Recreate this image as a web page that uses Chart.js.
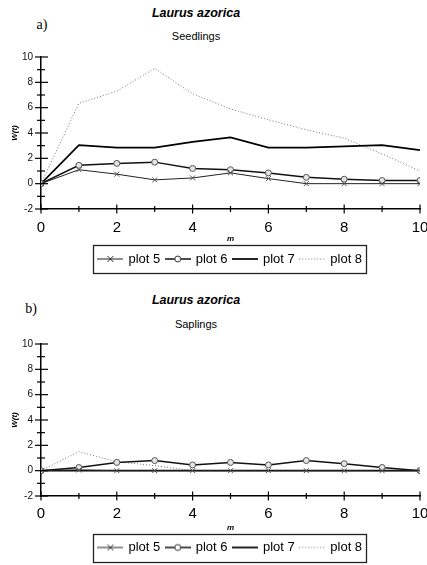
<!DOCTYPE html>
<html><head><meta charset="utf-8">
<script src="https://cdn.jsdelivr.net/npm/chart.js@4/dist/chart.umd.min.js"></script>
<style>
html,body{margin:0;padding:0;background:#fff;width:427px;height:565px;overflow:hidden;position:relative;font-family:"Liberation Sans",Arial,sans-serif;}
.t{position:absolute;transform:translate(-50%,-50%);white-space:nowrap;line-height:1;color:#000;}
.sp{font-weight:bold;font-style:italic;font-size:12.5px;}
.sub{font-size:11px;}
.lab{font-family:"Liberation Serif","Times New Roman",serif;font-size:14px;}
canvas{position:absolute;left:0;}
</style></head>
<body>
<div class="t lab" style="left:42px;top:25px">a)</div>
<div class="t sp" style="left:196px;top:13px">Laurus azorica</div>
<div class="t sub" style="left:196px;top:36px">Seedlings</div>
<div class="t lab" style="left:31px;top:309px">b)</div>
<div class="t sp" style="left:196px;top:300px">Laurus azorica</div>
<div class="t sub" style="left:196px;top:324px">Saplings</div>
<canvas id="c1" width="427" height="240" style="top:40px"></canvas>
<canvas id="c2" width="427" height="238" style="top:327px"></canvas>
<script>
// ---- data ----
const m = [0, 1, 2, 3, 4, 5, 6, 7, 8, 9, 10];
const seriesNames = ['plot 5', 'plot 6', 'plot 7', 'plot 8'];
const yTicks = [-2, 0, 2, 4, 6, 8, 10];
const xTicks = [0, 2, 4, 6, 8, 10];
// a) Seedlings
const seedPlot5 = [0, 1.1, 0.75, 0.3, 0.45, 0.85, 0.4, 0, 0, 0, 0];
const seedPlot6 = [0, 1.45, 1.6, 1.7, 1.2, 1.1, 0.85, 0.5, 0.35, 0.25, 0.25];
const seedPlot7 = [0, 3.05, 2.85, 2.85, 3.3, 3.65, 2.85, 2.85, 2.95, 3.05, 2.65];
const seedPlot8 = [0, 6.35, 7.3, 9.1, 7.1, 5.9, 5.05, 4.25, 3.6, 2.35, 1.0];
// b) Saplings
const sapPlot5 = [0, 0.05, 0, 0, 0, 0, 0, 0, 0, 0, 0];
const sapPlot6 = [0, 0.25, 0.65, 0.8, 0.45, 0.65, 0.45, 0.8, 0.55, 0.25, 0];
const sapPlot7 = [0, 0, 0, 0, 0, 0, 0, 0, 0, 0, 0];
const sapPlot8 = [0, 1.5, 0.7, 0.4, 0, 0, 0, 0, 0, 0, 0];

const FAM = '"Liberation Sans", Arial, sans-serif';

const styles = [
  {borderColor:'#222', borderWidth:1, pointStyle:'crossRot', pointRadius:3.5, pointBorderColor:'#555', pointBorderWidth:1, pointBackgroundColor:'#555'},
  {borderColor:'#111', borderWidth:1.5, pointStyle:'circle', pointRadius:3, pointBorderColor:'#555', pointBorderWidth:1, pointBackgroundColor:'#e4e4e4'},
  {borderColor:'#000', borderWidth:1.7, pointRadius:0},
  {borderColor:'#777', borderWidth:1, borderDash:[1,2], pointRadius:0}
];

function makeSymbol(i){
  const c = document.createElement('canvas');
  c.width = 26; c.height = 12;
  const g = c.getContext('2d');
  g.strokeStyle = styles[i].borderColor;
  g.lineWidth = styles[i].borderWidth;
  if (styles[i].borderDash) g.setLineDash(styles[i].borderDash);
  g.beginPath(); g.moveTo(0,6); g.lineTo(26,6); g.stroke();
  g.setLineDash([]);
  if (i === 0){
    g.strokeStyle = '#333'; g.lineWidth = 1;
    g.beginPath(); g.moveTo(10,3); g.lineTo(16,9); g.moveTo(16,3); g.lineTo(10,9); g.stroke();
  } else if (i === 1){
    g.fillStyle = '#fff'; g.strokeStyle = '#333'; g.lineWidth = 1;
    g.beginPath(); g.arc(13,6,3,0,Math.PI*2); g.fill(); g.stroke();
  }
  return c;
}
const symbols = [0,1,2,3].map(makeSymbol);

const axisPlugin = {
  id:'crossTicks',
  afterLayout(chart){
    const lg = chart.legend; if (!lg) return;
    const ca = chart.chartArea;
    const shift = (ca.left + ca.right)/2 - (lg.left + lg.right)/2;
    lg.left += shift; lg.right += shift;
  },
  afterDraw(chart){
    const ctx = chart.ctx, ca = chart.chartArea;
    const xs = chart.scales.x, ys = chart.scales.y;
    ctx.save();
    ctx.strokeStyle = '#000'; ctx.lineWidth = 1.2;
    xs.ticks.forEach(t => {
      const px = xs.getPixelForValue(t.value);
      const major = xTicks.includes(t.value);
      const a = major ? 4.5 : 3;
      ctx.beginPath(); ctx.moveTo(px, ca.bottom - a); ctx.lineTo(px, ca.bottom + a); ctx.stroke();
    });
    ys.ticks.forEach(t => {
      const py = ys.getPixelForValue(t.value);
      const major = yTicks.includes(t.value);
      const l = major ? 6 : 4, r = major ? 7 : 4;
      ctx.beginPath(); ctx.moveTo(ca.left - l, py); ctx.lineTo(ca.left + r, py); ctx.stroke();
    });
    // legend frame
    const lg = chart.legend;
    if (lg && lg.legendHitBoxes && lg.legendHitBoxes.length){
      const hb = lg.legendHitBoxes;
      let l = Infinity, r = -Infinity, cy = 0;
      hb.forEach(h => { l = Math.min(l, h.left); r = Math.max(r, h.left + h.width); cy = h.top + h.height/2; });
      ctx.lineWidth = 1.3; ctx.strokeStyle = '#222';
      ctx.strokeRect(Math.round(l - 6) + 0.5, Math.round(cy - 14) + 0.5, Math.round(r - l + 10), 28);
    }
    ctx.restore();
  }
};

function makeChart(id, vals, cfg){
  const datasets = vals.map((v, i) => Object.assign({
    label: seriesNames[i],
    data: m.map((x, j) => ({x: x, y: v[j]})),
    fill:false, tension:0
  }, styles[i]));
  return new Chart(document.getElementById(id), {
    type:'line',
    data:{datasets},
    plugins:[axisPlugin],
    options:{
      responsive:false, animation:false, devicePixelRatio:1,
      layout:{padding:{top:17, right:7, bottom:cfg.pb, left:0}},
      plugins:{
        tooltip:{enabled:false},
        legend:{
          position:'bottom',
          labels:{
            usePointStyle:true, pointStyleWidth:23, padding:6,
            font:{size:13, family:FAM}, color:'#000',
            generateLabels: ch => ch.data.datasets.map((ds, i) => ({
              text: ds.label, pointStyle: symbols[i], fillStyle:'rgba(0,0,0,0)',
              strokeStyle:'rgba(0,0,0,0)', lineWidth:0, hidden:false, datasetIndex:i, fontColor:'#000'
            }))
          }
        }
      },
      scales:{
        x:{
          type:'linear', min:0, max:10,
          grid:{display:false, drawTicks:false},
          border:{display:true, color:'#000', width:1.5},
          ticks:{stepSize:1, autoSkip:false, maxRotation:0, padding:cfg.xpad,
            font:{size:15, family:FAM}, color:'#000',
            callback: v => xTicks.includes(v) ? String(v) : ''},
          title:{display:true, text:'m', color:'#000', font:{size:8, style:'italic', weight:'bold', family:FAM}, padding:{top:0, bottom:cfg.mpad}},
          afterFit: s => { s.height = cfg.xh; s.paddingLeft = 0; s.paddingRight = 0; }
        },
        y:{
          type:'linear', min:-2, max:10,
          grid:{display:false, drawTicks:false},
          border:{display:true, color:'#000', width:1.5},
          ticks:{stepSize:1, autoSkip:false, padding:8,
            font:{size:10, family:FAM}, color:'#111',
            callback: v => yTicks.includes(v) ? String(v) : ''},
          title:{display:true, text:'W(t)', color:'#000', font:{size:8, style:'italic', weight:'bold', family:FAM}, padding:{top:10, bottom:0}},
          afterFit: s => { s.width = 41; }
        }
      }
    }
  });
}

makeChart('c1', [seedPlot5, seedPlot6, seedPlot7, seedPlot8], {pb:4.5, xh:37.5, xpad:10, mpad:3.2});
makeChart('c2', [sapPlot5, sapPlot6, sapPlot7, sapPlot8], {pb:1, xh:39, xpad:9, mpad:2.2});
</script>
</body></html>
